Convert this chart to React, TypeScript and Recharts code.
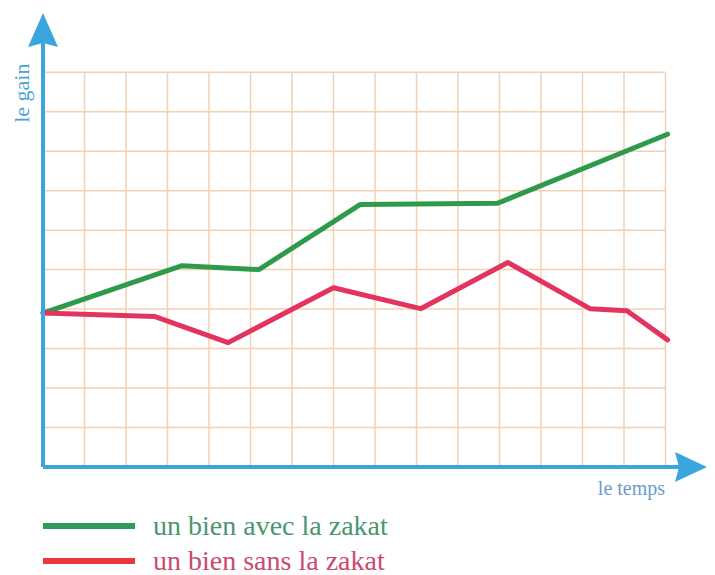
import { Line, LineChart, ReferenceDot, ReferenceLine, XAxis, YAxis } from "recharts";

// grid units: one column = one step of time, one row = one step of gain
const timeMax = 16;
const gainMax = 11.5;
const gridCols = [0, 1, 2, 3, 4, 5, 6, 7, 8, 9, 10, 11, 12, 13, 14, 15];
const gridRows = [0, 1, 2, 3, 4, 5, 6, 7, 8, 9, 10];

const withZakat = [
  { t: 0, gain: 3.9 },
  { t: 3.35, gain: 5.1 },
  { t: 5.2, gain: 5.0 },
  { t: 7.65, gain: 6.65 },
  { t: 10.95, gain: 6.68 },
  { t: 15.05, gain: 8.43 },
];

const withoutZakat = [
  { t: 0, gain: 3.9 },
  { t: 2.7, gain: 3.81 },
  { t: 4.46, gain: 3.15 },
  { t: 7.0, gain: 4.54 },
  { t: 9.1, gain: 4.01 },
  { t: 11.2, gain: 5.18 },
  { t: 13.18, gain: 4.01 },
  { t: 14.07, gain: 3.96 },
  { t: 15.05, gain: 3.22 },
];

const series = [
  { name: "un bien avec la zakat", line: "#2e9a4c", key: "#2f9a60", text: "#4a9670", data: withZakat },
  { name: "un bien sans la zakat", line: "#e3345f", key: "#e8383e", text: "#cc4a6c", data: withoutZakat },
];

const axisBlue = "#3aa6de";
const gridColor = "#f3d0b2";
const serif = "'Liberation Serif', 'Times New Roman', serif";

function ArrowUp({ cx, cy }: { cx?: number; cy?: number }) {
  const x = cx ?? 0;
  const y = cy ?? 0;
  return <path d={`M${x},${y} L${x + 15},${y + 34} L${x},${y + 30} L${x - 15},${y + 34} Z`} fill={axisBlue} />;
}

function ArrowRight({ cx, cy }: { cx?: number; cy?: number }) {
  const x = cx ?? 0;
  const y = cy ?? 0;
  return <path d={`M${x},${y} L${x - 32},${y + 15} L${x - 28},${y} L${x - 32},${y - 15} Z`} fill={axisBlue} />;
}

export default function App() {
  return (
    <div style={{ position: "absolute", left: 0, top: 0, width: 715, height: 575, background: "#fff" }}>
      <LineChart width={715} height={575} margin={{ top: 13, right: 8, bottom: 108, left: 43 }}>
        <XAxis type="number" dataKey="t" domain={[0, timeMax]} hide />
        <YAxis type="number" dataKey="gain" domain={[0, gainMax]} hide />
        {gridCols.slice(1).map((c) => (
          <ReferenceLine key={`c${c}`} segment={[{ x: c, y: 0 }, { x: c, y: 10 }]} stroke={gridColor} strokeWidth={1.5} />
        ))}
        {gridRows.slice(1).map((r) => (
          <ReferenceLine key={`r${r}`} segment={[{ x: 0, y: r }, { x: 15, y: r }]} stroke={gridColor} strokeWidth={1.5} />
        ))}
        {series.map((s) => (
          <Line
            key={s.name}
            data={s.data}
            dataKey="gain"
            type="linear"
            stroke={s.line}
            strokeWidth={5}
            strokeLinecap="round"
            strokeLinejoin="round"
            dot={false}
            activeDot={false}
            isAnimationActive={false}
          />
        ))}
        <ReferenceLine segment={[{ x: 0, y: 0 }, { x: timeMax - 0.5, y: 0 }]} stroke={axisBlue} strokeWidth={4} ifOverflow="visible" />
        <ReferenceLine segment={[{ x: 0, y: 0 }, { x: 0, y: gainMax - 0.5 }]} stroke={axisBlue} strokeWidth={4} ifOverflow="visible" />
        <ReferenceDot x={0} y={gainMax} r={0} ifOverflow="visible" shape={(p: any) => <ArrowUp cx={p.cx} cy={p.cy} />} />
        <ReferenceDot x={timeMax} y={0} r={0} ifOverflow="visible" shape={(p: any) => <ArrowRight cx={p.cx} cy={p.cy} />} />
        <ReferenceDot
          x={-0.53}
          y={9.47}
          r={0}
          ifOverflow="visible"
          shape={(p: any) => (
            <text
              x={p.cx}
              y={p.cy}
              transform={`rotate(-90 ${p.cx} ${p.cy})`}
              textAnchor="middle"
              dominantBaseline="central"
              fill="#4aa2d8"
              fontFamily={serif}
              fontSize={22}
            >
              le gain
            </text>
          )}
        />
        <ReferenceDot
          x={13.37}
          y={-0.7}
          r={0}
          ifOverflow="visible"
          shape={(p: any) => (
            <text x={p.cx} y={p.cy} fill="#6a9ccb" fontFamily={serif} fontSize={20}>
              le temps
            </text>
          )}
        />
      </LineChart>
      <div style={{ position: "absolute", left: 43, top: 508 }}>
        {series.map((s) => (
          <div key={s.name} style={{ display: "flex", alignItems: "center", height: 35 }}>
            <span style={{ display: "inline-block", width: 92, height: 6, background: s.key, marginRight: 18 }} />
            <span style={{ color: s.text, fontFamily: serif, fontSize: 28, lineHeight: "28px" }}>{s.name}</span>
          </div>
        ))}
      </div>
    </div>
  );
}
